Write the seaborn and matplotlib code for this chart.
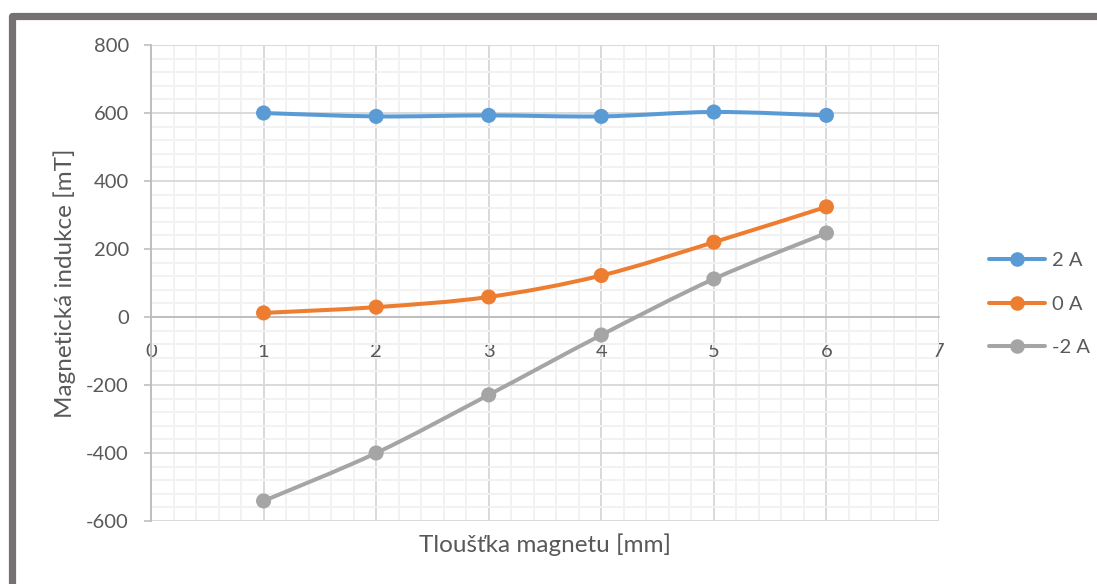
import numpy as np
import pandas as pd
import seaborn as sns
import matplotlib.pyplot as plt
from matplotlib.path import Path
from matplotlib.patches import PathPatch
from matplotlib.lines import Line2D
from matplotlib.ticker import MultipleLocator

# Measured flux density vs. magnet thickness for three coil currents
thickness = [1, 2, 3, 4, 5, 6]
b_plus2 = [600, 590, 593, 590, 603, 593]
b_zero = [12, 29, 59, 122, 220, 324]
b_minus2 = [-541, -400, -229, -53, 112, 247]

series_labels = ["2 A", "0 A", "-2 A"]
series_values = [b_plus2, b_zero, b_minus2]
colors = ["#5B9BD5", "#ED7D31", "#A5A5A5"]

x_ticks = [0, 1, 2, 3, 4, 5, 6, 7]
y_ticks = [-600, -400, -200, 0, 200, 400, 600, 800]

x_label = "Tloušťka magnetu [mm]"
y_label = "Magnetická indukce [mT]"

TEXT = "#595959"

sns.set_theme(style="white")
plt.rcParams["font.family"] = ["Lato", "DejaVu Sans"]
plt.rcParams["axes.unicode_minus"] = False

fig = plt.figure(figsize=(10.97, 5.84), dpi=100)
W, H = 1097, 584
ax = fig.add_axes([151 / W, 1 - 521 / H, 788 / W, 476 / H])

df = pd.DataFrame(
    [(x, y, lab) for lab, vals in zip(series_labels, series_values)
     for x, y in zip(thickness, vals)],
    columns=["x", "y", "series"],
)


def smooth_path(xs, ys):
    """Bezier path through the points, in the style of a smoothed line chart."""
    pts = np.column_stack([xs, ys]).astype(float)
    n = len(pts)
    verts = [pts[0]]
    codes = [Path.MOVETO]
    for i in range(n - 1):
        p0 = pts[max(i - 1, 0)]
        p1 = pts[i]
        p2 = pts[i + 1]
        p3 = pts[min(i + 2, n - 1)]
        c1 = p1 + (p2 - p0) / 6.0
        c2 = p2 - (p3 - p1) / 6.0
        verts += [c1, c2, p2]
        codes += [Path.CURVE4] * 3
    return Path(verts, codes)


for lab, col in zip(series_labels, colors):
    sub = df[df["series"] == lab]
    patch = PathPatch(smooth_path(sub["x"], sub["y"]), facecolor="none",
                      edgecolor=col, lw=2.9, zorder=3, capstyle="round",
                      joinstyle="round")
    ax.add_patch(patch)

sns.scatterplot(data=df, x="x", y="y", hue="series", palette=colors,
                hue_order=series_labels, s=118, linewidth=0, zorder=4,
                legend=False, ax=ax)

ax.set_xlim(0, 7)
ax.set_ylim(-600, 800)
ax.set_xticks(x_ticks)
ax.set_yticks(y_ticks)
ax.xaxis.set_minor_locator(MultipleLocator(0.2))
ax.yaxis.set_minor_locator(MultipleLocator(40))
ax.set_axisbelow(True)
ax.grid(which="minor", color="#F2F2F2", lw=1.4, zorder=0)
ax.grid(which="major", color="#D9D9D9", lw=1.4, zorder=1)

for s in ["top", "right"]:
    ax.spines[s].set_visible(False)
ax.spines["left"].set_color("#BFBFBF")
ax.spines["left"].set_linewidth(1.4)
ax.spines["bottom"].set_position(("data", 0))
ax.spines["bottom"].set_color("#BFBFBF")
ax.spines["bottom"].set_linewidth(1.4)

ax.tick_params(axis="y", which="major", left=True, length=5, width=1.2,
               color="#BFBFBF", labelsize=14.5, labelcolor=TEXT, pad=11)
ax.tick_params(axis="y", which="minor", left=False)
ax.tick_params(axis="x", which="both", bottom=False, labelsize=14.5,
               labelcolor=TEXT, pad=13)
ax.set_xlabel("")
ax.set_ylabel("")

fig.text(545 / W, 1 - 545 / H, x_label, ha="center", va="center",
         fontsize=17.5, color=TEXT)
fig.text(65 / W, 1 - 283 / H, y_label, ha="center", va="center",
         rotation=90, fontsize=17.5, color=TEXT)

handles = [Line2D([0], [0], color=c, lw=2.9, marker="o", markersize=10.5,
                  markeredgewidth=0) for c in colors]
fig.legend(handles, series_labels, loc="center left",
           bbox_to_anchor=(979 / W, 1 - 304 / H), frameon=False,
           fontsize=14.5, labelcolor=TEXT, handlelength=2.8,
           handletextpad=0.3, labelspacing=1.3, borderpad=0)

# Outer chart frame (left and top edges)
frame = Line2D([12 / W, 12 / W, 1.05],
               [-0.05, 1 - 16 / H, 1 - 16 / H],
               transform=fig.transFigure, color="#767171", lw=5.2,
               solid_joinstyle="round")
fig.add_artist(frame)

fig.savefig("out.png", dpi=100, facecolor="white")
